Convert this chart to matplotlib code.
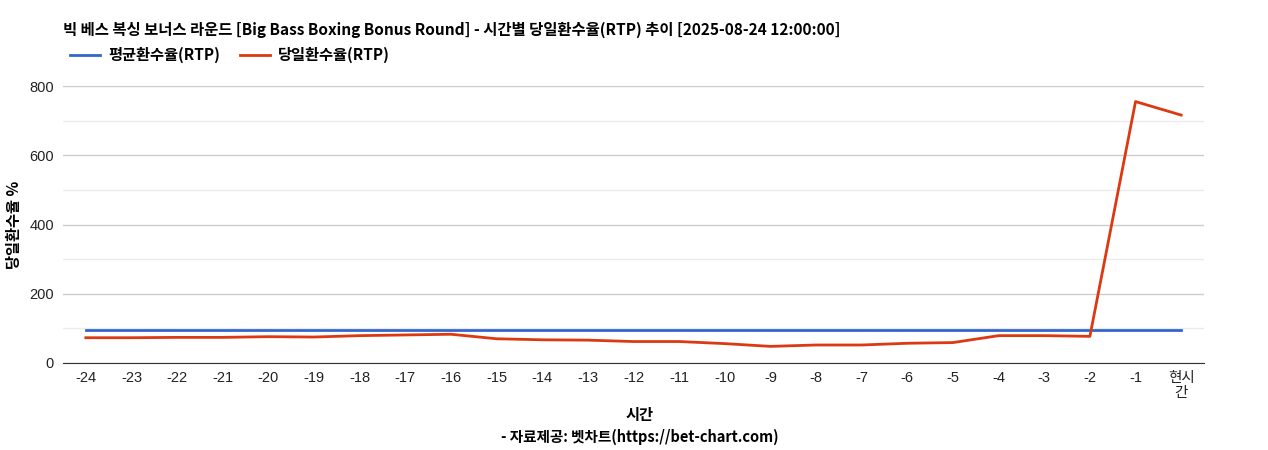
import matplotlib
matplotlib.use("Agg")
import matplotlib.pyplot as plt
from matplotlib.ticker import MultipleLocator

plt.rcParams['font.family'] = ['Noto Sans CJK KR', 'DejaVu Sans']

hours = ["-24", "-23", "-22", "-21", "-20", "-19", "-18", "-17", "-16", "-15", "-14", "-13",
         "-12", "-11", "-10", "-9", "-8", "-7", "-6", "-5", "-4", "-3", "-2", "-1", "현시\n간"]
avg_rtp = [96] * 25
daily_rtp = [73, 73, 74, 74, 76, 75, 79, 81, 83, 70, 67, 66, 62, 62, 56, 48, 52, 52, 57, 59,
             79, 79, 77, 755, 716]

tick_family = ['Liberation Sans', 'Noto Sans CJK KR']

fig = plt.figure(figsize=(12.68, 4.5), dpi=100)
ax = fig.add_axes([63/1268, 1 - 363/450, (1204-63)/1268, (363-86)/450])

x = list(range(len(hours)))
ax.plot(x, avg_rtp, color='#3366cc', lw=2, label='평균환수율(RTP)')
ax.plot(x, daily_rtp, color='#dc3912', lw=2, label='당일환수율(RTP)')

ax.set_xlim(-0.5, len(hours) - 1 + 0.5)
ax.set_ylim(0, 800)
ax.yaxis.set_major_locator(MultipleLocator(200))
ax.yaxis.set_minor_locator(MultipleLocator(100))
ax.grid(which='major', axis='y', color='#cccccc', lw=1)
ax.grid(which='minor', axis='y', color='#ebebeb', lw=1)
ax.set_axisbelow(True)
ax.set_xticks(x)
ax.set_xticklabels(hours, fontsize=10.5, color='#222222', family=tick_family, linespacing=1.1)
ax.tick_params(axis='y', labelsize=10.5, colors='#222222', length=0, which='both', pad=6.5)
ax.tick_params(axis='x', length=0, pad=6)
for t in ax.get_yticklabels():
    t.set_family(tick_family)
for s in ['top', 'right', 'left']:
    ax.spines[s].set_visible(False)
ax.spines['bottom'].set_color('#333333')

fig.text(14/1268, 1 - 225/450, '당일환수율 %', ha='center', va='center', rotation=90,
         fontsize=11, fontweight='bold')
fig.text(640/1268, 1 - 415/450, '시간', ha='center', va='center', fontsize=11, fontweight='bold')
fig.text(640/1268, 1 - 437/450, '- 자료제공: 벳차트(https://bet-chart.com)', ha='center', va='center',
         fontsize=10.5, fontweight='bold')
fig.text(63/1268, 1 - 30/450, '빅 베스 복싱 보너스 라운드 [Big Bass Boxing Bonus Round] - 시간별 당일환수율(RTP) 추이 [2025-08-24 12:00:00]',
         ha='left', va='center', fontsize=11.1, fontweight='bold')
leg = fig.legend(loc='center left', bbox_to_anchor=(56/1268, 1 - 55/450), ncol=2, frameon=False,
                 fontsize=11, handlelength=2, columnspacing=1.3, handletextpad=0.5)
for t in leg.get_texts():
    t.set_fontweight('bold')

fig.savefig('out.png', dpi=100)
